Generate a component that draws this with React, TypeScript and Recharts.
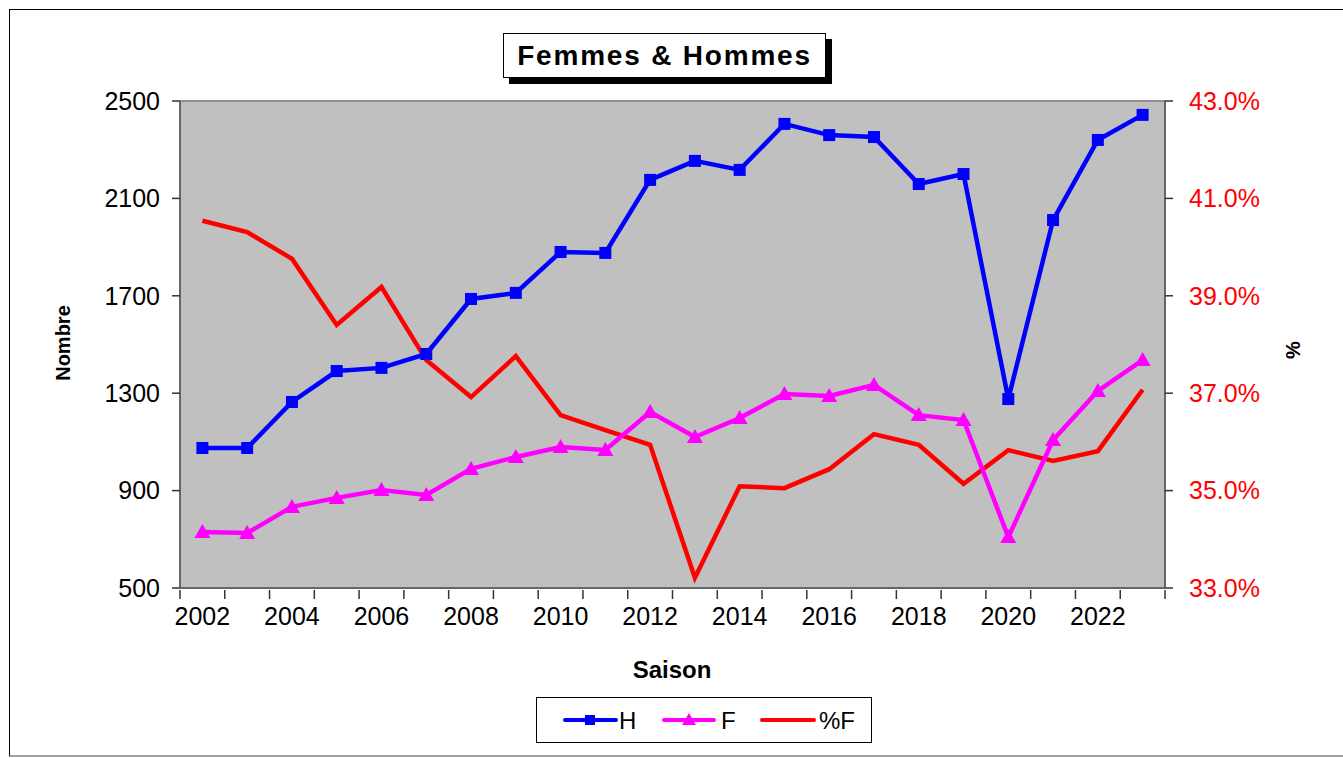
import React from "react";
import {
  LineChart,
  Line,
  XAxis,
  YAxis,
  CartesianGrid,
  ReferenceLine,
} from "recharts";

const seasons = [
  "2002", "2003", "2004", "2005", "2006", "2007", "2008", "2009", "2010", "2011", "2012",
  "2013", "2014", "2015", "2016", "2017", "2018", "2019", "2020", "2021", "2022", "2023",
];
const hommes = [
  1075, 1075, 1264, 1391, 1404, 1461, 1687, 1712, 1880, 1876, 2176,
  2254, 2217, 2406, 2360, 2352, 2159, 2200, 1276, 2011, 2340, 2443,
];
const femmes = [
  730, 726, 833, 870, 902, 882, 989, 1038, 1079, 1067, 1223,
  1120, 1198, 1297, 1289, 1334, 1210, 1190, 709, 1108, 1309, 1436,
];
const pctFemmes = [
  40.54, 40.31, 39.76, 38.4, 39.18, 37.68, 36.92, 37.76, 36.55, 36.24, 35.94,
  33.21, 35.09, 35.05, 35.44, 36.16, 35.94, 35.14, 35.83, 35.61, 35.81, 37.07,
];
const leftTicks = [500, 900, 1300, 1700, 2100, 2500];
const rightTicks = [33, 35, 37, 39, 41, 43];

const data = seasons.map((s, i) => ({
  saison: s,
  H: hommes[i],
  F: femmes[i],
  pF: pctFemmes[i],
}));

const W = 1343;
const H = 758;
const M = { top: 101, left: 100, right: 78, bottom: 140 };
const LEFT_W = 80;
const RIGHT_W = 100;
const PLOT_W = W - M.left - M.right - LEFT_W - RIGHT_W;
const BAND = PLOT_W / seasons.length;
const FONT = "'Liberation Sans', Arial, sans-serif";

const SquareDot = (props: any) => {
  const { cx, cy } = props;
  if (cx == null || cy == null) return null;
  return <rect x={cx - 6} y={cy - 6} width={12} height={12} fill="#0000ff" />;
};

const TriangleDot = (props: any) => {
  const { cx, cy } = props;
  if (cx == null || cy == null) return null;
  return (
    <polygon
      points={`${cx},${cy - 8} ${cx - 8},${cy + 6} ${cx + 8},${cy + 6}`}
      fill="#ff00ff"
    />
  );
};

const SeasonTick = (props: any) => {
  const { x, y, payload, index } = props;
  const i = payload?.index ?? index;
  return (
    <g>
      <line x1={x - BAND / 2} x2={x - BAND / 2} y1={y} y2={y + 9} stroke="#333" strokeWidth={1.5} />
      {i === seasons.length - 1 && (
        <line x1={x + BAND / 2} x2={x + BAND / 2} y1={y} y2={y + 9} stroke="#333" strokeWidth={1.5} />
      )}
      {i % 2 === 0 && (
        <text x={x} y={y + 35} textAnchor="middle" fontSize={25} fill="#000" fontFamily={FONT}>
          {payload.value}
        </text>
      )}
    </g>
  );
};

const LegendBox = () => (
  <div
    style={{
      position: "absolute",
      left: 536,
      top: 697,
      width: 336,
      height: 46,
      border: "1px solid #000",
      background: "#fff",
      boxSizing: "border-box",
    }}
  >
    <svg width={336} height={46} style={{ position: "absolute", left: 0, top: 0 }}>
      <line x1={28} x2={79} y1={22} y2={22} stroke="#0000ff" strokeWidth={4} strokeLinecap="round" />
      <rect x={48} y={17} width={10} height={10} fill="#0000ff" />
      <text x={82} y={31} fontSize={24} fill="#000" fontFamily={FONT}>H</text>
      <line x1={127} x2={177} y1={22} y2={22} stroke="#ff00ff" strokeWidth={4} strokeLinecap="round" />
      <polygon points="152,15 145,27 159,27" fill="#ff00ff" />
      <text x={184} y={31} fontSize={24} fill="#000" fontFamily={FONT}>F</text>
      <line x1={225} x2={277} y1={22} y2={22} stroke="#ff0000" strokeWidth={4} strokeLinecap="round" />
      <text x={282} y={31} fontSize={24} fill="#000" fontFamily={FONT}>%F</text>
    </svg>
  </div>
);

export default function App() {
  return (
    <div
      style={{
        position: "absolute",
        left: 0,
        top: 0,
        width: W,
        height: H,
        background: "#fff",
        overflow: "hidden",
        fontFamily: FONT,
      }}
    >
      {/* outer chart border */}
      <div
        style={{
          position: "absolute",
          left: 9,
          top: 9,
          width: W,
          height: 748,
          borderLeft: "1px solid #000",
          borderTop: "1px solid #000",
          borderBottom: "2px solid #a0a0a0",
          boxSizing: "border-box",
        }}
      />
      <LineChart width={W} height={H} data={data} margin={M} style={{ position: "absolute", left: 0, top: 0 }}>
        <CartesianGrid
          fill="#c0c0c0"
          stroke="#000"
          strokeWidth={1.3}
          vertical={false}
          horizontalValues={[900, 1300, 1700, 2100]}
        />
        <ReferenceLine yAxisId="left" y={2500} stroke="#909090" strokeWidth={2} />
        <XAxis
          dataKey="saison"
          interval={0}
          tickSize={0}
          tickLine={false}
          height={30}
          padding={{ left: BAND / 2, right: BAND / 2 }}
          axisLine={{ stroke: "#666", strokeWidth: 2 }}
          tick={<SeasonTick />}
        />
        <YAxis
          yAxisId="left"
          width={LEFT_W}
          domain={[500, 2500]}
          ticks={leftTicks}
          tickSize={8}
          tickMargin={12}
          axisLine={{ stroke: "#666", strokeWidth: 2 }}
          tickLine={{ stroke: "#333", strokeWidth: 1.5 }}
          tick={{ fontSize: 25, fill: "#000", fontFamily: FONT }}
        />
        <YAxis
          yAxisId="right"
          orientation="right"
          width={RIGHT_W}
          domain={[33, 43]}
          ticks={rightTicks}
          tickSize={8}
          tickMargin={16}
          tickFormatter={(v: number) => `${v.toFixed(1)}%`}
          axisLine={{ stroke: "#666", strokeWidth: 2 }}
          tickLine={{ stroke: "#333", strokeWidth: 1.5 }}
          tick={{ fontSize: 25, fill: "#ff0000", fontFamily: FONT }}
        />
        <Line
          yAxisId="right"
          dataKey="pF"
          stroke="#ff0000"
          strokeWidth={4.5}
          dot={false}
          activeDot={false}
          isAnimationActive={false}
        />
        <Line
          yAxisId="left"
          dataKey="F"
          stroke="#ff00ff"
          strokeWidth={4.5}
          dot={<TriangleDot />}
          activeDot={false}
          isAnimationActive={false}
        />
        <Line
          yAxisId="left"
          dataKey="H"
          stroke="#0000ff"
          strokeWidth={4.5}
          dot={<SquareDot />}
          activeDot={false}
          isAnimationActive={false}
        />
      </LineChart>
      {/* title */}
      <div
        style={{
          position: "absolute",
          left: 503,
          top: 33,
          width: 323,
          height: 45,
          border: "1.5px solid #000",
          boxShadow: "6px 6px 0 #000",
          background: "#fff",
          boxSizing: "border-box",
          display: "flex",
          alignItems: "center",
          justifyContent: "center",
          fontWeight: 700,
          fontSize: 28,
          letterSpacing: 1.8,
        }}
      >
        Femmes &amp; Hommes
      </div>
      {/* axis titles */}
      <div
        style={{
          position: "absolute",
          left: 63,
          top: 343,
          transform: "translate(-50%, -50%) rotate(-90deg)",
          fontWeight: 700,
          fontSize: 20,
          whiteSpace: "nowrap",
        }}
      >
        Nombre
      </div>
      <div
        style={{
          position: "absolute",
          left: 1293,
          top: 350,
          transform: "translate(-50%, -50%) rotate(-90deg)",
          fontWeight: 700,
          fontSize: 20,
        }}
      >
        %
      </div>
      <div
        style={{
          position: "absolute",
          left: 672,
          top: 670,
          transform: "translate(-50%, -50%)",
          fontWeight: 700,
          fontSize: 24,
        }}
      >
        Saison
      </div>
      <LegendBox />
    </div>
  );
}
